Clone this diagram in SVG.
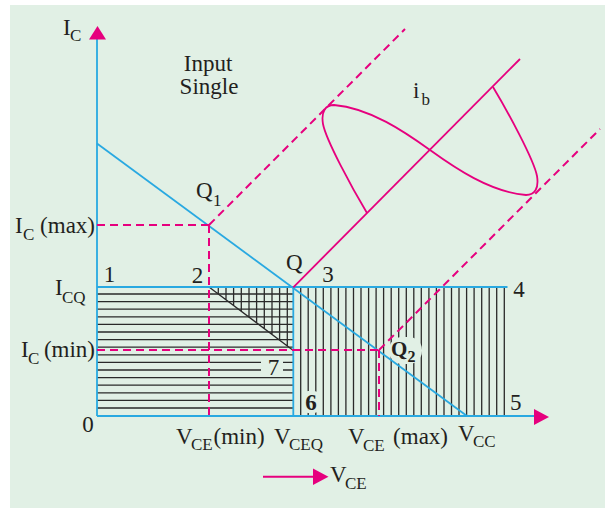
<svg xmlns="http://www.w3.org/2000/svg" width="605" height="508" viewBox="0 0 605 508">
<style>
.t{font-family:"Liberation Serif","Times New Roman",serif;font-size:23px;fill:#231f20}
.s{font-size:17px}
.b{font-weight:bold}
.cy{stroke:#29a9e1;fill:none;stroke-width:1.8}
.mg{stroke:#e6007e;fill:none;stroke-width:1.8}
.ds{stroke:#e6007e;fill:none;stroke-width:2;stroke-dasharray:8 5}
.h{stroke:#2a2a2a;fill:none;stroke-width:1.3}
.bg{fill:#e1f0e5}
</style>
<rect x="10" y="5" width="595" height="503" fill="#e1f0e5"/>
<g id="hatching">
<path class="h" d="M97 294H293M97 301.6H293M97 309.2H293M97 316.8H293M97 324.4H293M97 332H293M97 339.6H293M97 347.2H293M97 354.8H293M97 362.4H293M97 370H293M97 377.6H293M97 385.2H293M97 392.8H293M97 400.4H293M97 408H293"/>
<path class="h" d="M218.3 287V294M226 287V299.8M233.6 287V305.5M241.3 287V311.3M249 287V317.1M256.6 287V322.8M264.3 287V328.6M272 287V334.4M279.6 287V340.2M287.3 287V346M209 287L293.3 350.5"/>
<path class="h" d="M300.7 287V416M308.2 287V416M315.8 287V416M323.3 287V416M330.9 287V416M338.4 287V416M345.9 287V416M353.5 287V416M361 287V416M368.6 287V416M376.1 287V416M383.6 287V416M391.2 287V416M398.7 287V416M406.3 287V416M413.8 287V416M421.3 287V416M428.9 287V416M436.4 287V416M444 287V416M451.5 287V416M459 287V416M466.6 287V416M474.1 287V416M481.7 287V416M489.2 287V416M496.7 287V416M504.3 287V416"/>
<rect class="bg" x="261" y="358.5" width="22" height="15"/>
<rect class="bg" x="302" y="391" width="18" height="22" rx="6"/>
<rect class="bg" x="389" y="337" width="33" height="27" rx="13"/>
</g>
<g id="axes">
<path class="cy" d="M97 416V38M97 416H535"/>
<path d="M89 39.5L97.5 26L106 39.5Z" fill="#e6007e"/>
<path d="M534 409L549 417L534 425Z" fill="#e6007e"/>
<path class="cy" d="M97 287H507.5M293.3 287V416"/>
<path class="cy" stroke-width="1.5" d="M97 143.5L467 416"/>
</g>
<g id="connectors">
<path class="ds" d="M97 225H209M209 225V416M97 350H379M379 350V416"/>
<path class="ds" d="M209 225L405 29M379 350L600 129"/>
<path class="mg" d="M293.3 287.3L520 59"/>
<path class="mg" stroke-width="2.2" d="M367 213C352 188 326 140 323 124C321 112 325 105 334 105C370 108 405 132 430 150C455 168 490 192 526 195C535 195 539 188 537 176C534 160 508 112 493 87"/>
<path d="M263 476.7H315" stroke="#e6007e" stroke-width="2"/>
<path d="M313 468.5L328.5 476.7L313 485Z" fill="#e6007e"/>
</g>
<g id="labels" class="t">
<text x="63" y="35">I</text><text class="s" x="70" y="41">C</text>
<text x="208" y="71" text-anchor="middle">Input</text>
<text x="209" y="93.5" text-anchor="middle">Single</text>
<text x="413" y="98">i</text><text class="s" x="421.5" y="105">b</text>
<text x="196" y="198">Q</text><text class="s" x="213" y="206">1</text>
<text x="15" y="233">I</text><text class="s" x="23" y="240">C</text><text x="95" y="233" text-anchor="end">(max)</text>
<text x="286" y="270">Q</text>
<text x="328" y="281.5" text-anchor="middle">3</text>
<text x="109.5" y="282" text-anchor="middle">1</text>
<text x="197.5" y="283" text-anchor="middle">2</text>
<text x="55" y="295">I</text><text class="s" x="62" y="303">CQ</text>
<text x="519" y="297" text-anchor="middle">4</text>
<text x="21" y="357">I</text><text class="s" x="28" y="364">C</text><text x="95" y="357" text-anchor="end">(min)</text>
<text x="273.5" y="375" text-anchor="middle">7</text>
<text class="b" x="391" y="356" font-size="21">Q</text><text class="b" x="407.5" y="362" font-size="16">2</text>
<text class="b" x="311" y="410" text-anchor="middle">6</text>
<text x="515.7" y="410" text-anchor="middle">5</text>
<text x="88" y="432" text-anchor="middle">0</text>
<text x="176" y="443.5">V</text><text class="s" x="191" y="450">CE</text><text x="213.5" y="443.5">(min)</text>
<text x="274" y="443.5">V</text><text class="s" x="289" y="450">CEQ</text>
<text x="348" y="444">V</text><text class="s" x="363" y="451">CE</text><text x="448" y="444" text-anchor="end">(max)</text>
<text x="458" y="441">V</text><text class="s" x="473" y="447">CC</text>
<text x="330" y="482">V</text><text class="s" x="345" y="488.5">CE</text>
</g>
</svg>
